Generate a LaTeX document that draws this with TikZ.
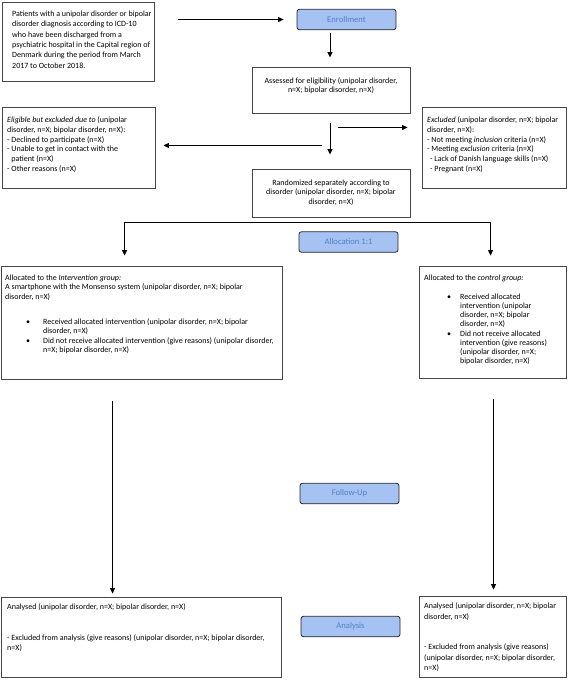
\documentclass[tikz,border=0pt]{standalone}
\usepackage{fontspec}
\setmainfont{Carlito}
\usetikzlibrary{arrows.meta,calc}
\definecolor{phasefill}{RGB}{166,194,243}
\definecolor{phasetext}{RGB}{79,129,199}
\definecolor{boxline}{RGB}{70,70,70}
\tikzset{
  box/.style={draw=boxline,line width=0.9pt,inner sep=0pt,fill=white},
  phase/.style={draw=black!85,line width=0.8pt,rounded corners=2.5pt,fill=phasefill,
    text=phasetext,inner sep=0pt,minimum width=99pt,minimum height=20.5pt,
    font=\fontsize{8.6}{10}\selectfont},
  txt/.style={inner sep=0pt,align=left,anchor=north west,font=\fontsize{8}{9.8}\selectfont},
  ctxt/.style={inner sep=0pt,align=center,anchor=north,font=\fontsize{8}{9.8}\selectfont},
  bul/.style={inner sep=0pt,anchor=center,font=\fontsize{8}{9.8}\selectfont},
  arr/.style={draw=black,line width=0.9pt,-{Triangle[length=5.5pt,width=5pt]}}
}
\begin{document}
\begin{tikzpicture}[x=1pt,y=-1pt]
\useasboundingbox (0,0) rectangle (568,680);
% boxes
\node[box,minimum width=152pt,minimum height=79pt] (b1) at (78,41.5) {};
\node[box,minimum width=158pt,minimum height=46pt] (as) at (331,90) {};
\node[box,minimum width=153pt,minimum height=81pt] (el) at (78.5,147.5) {};
\node[box,minimum width=144pt,minimum height=81pt] (ex) at (494,147.5) {};
\node[box,minimum width=158pt,minimum height=48pt] (rd) at (331,193) {};
\node[box,minimum width=281pt,minimum height=113pt] (iv) at (141.5,322.5) {};
\node[box,minimum width=147pt,minimum height=112pt] (ct) at (492.5,322) {};
\node[box,minimum width=280pt,minimum height=80pt] (la) at (141,637) {};
\node[box,minimum width=147pt,minimum height=81pt] (ra) at (492.5,636.5) {};
% phase labels
\node[phase] (en) at (346.5,19.5) {Enrollment};
\node[phase] (al) at (348.5,242) {Allocation 1:1};
\node[phase] (fu) at (349.5,493.5) {Follow-Up};
\node[phase] (an) at (350.5,626.5) {Analysis};
% texts
\node[txt,font=\fontsize{8}{10.4}\selectfont] (t1) at (12,10.5) {Patients with a unipolar disorder or bipolar\\
disorder diagnosis according to ICD-10\\
who have been discharged from a\\
psychiatric hospital in the Capital region of\\
Denmark during the period from March\\
2017 to October 2018.};
\node[ctxt,font=\fontsize{8}{8.8}\selectfont] (tas) at (331,77.5) {Assessed for eligibility (unipolar disorder,\\ n=X; bipolar disorder, n=X)};
\node[txt] (tel) at (7,116.5) {\textit{Eligible but excluded due to} (unipolar\\
disorder, n=X; bipolar disorder, n=X):\\
- Declined to participate (n=X)\\
- Unable to get in contact with the\\
\phantom{- }patient (n=X)\\
- Other reasons (n=X)};
\node[txt] (tex) at (427,116.5) {\textit{Excluded} (unipolar disorder, n=X; bipolar\\
disorder, n=X):\\
- Not meeting \textit{inclusion} criteria (n=X)\\
- Meeting \textit{exclusion} criteria (n=X)\\
\hspace*{3pt}- Lack of Danish language skills (n=X)\\
\hspace*{3pt}- Pregnant (n=X)};
\node[ctxt,font=\fontsize{8}{9.5}\selectfont] (trd) at (331,179.5) {Randomized separately according to\\
disorder (unipolar disorder, n=X; bipolar\\ disorder, n=X)};
\node[txt,font=\fontsize{8}{9.5}\selectfont] (tiv) at (5,274.5) {Allocated to the \textit{Intervention group:}\\
A smartphone with the Monsenso system (unipolar disorder, n=X; bipolar\\
disorder, n=X)};
\node[bul] (bi1) at (28,322.5) {\textbullet};
\node[txt,font=\fontsize{8}{9.3}\selectfont] (ti1) at (43,318.5) {Received allocated intervention (unipolar disorder, n=X; bipolar\\ disorder, n=X)};
\node[bul] (bi2) at (28,341.5) {\textbullet};
\node[txt,font=\fontsize{8}{9.3}\selectfont] (ti2) at (43,337.5) {Did not receive allocated intervention (give reasons) (unipolar disorder,\\ n=X; bipolar disorder, n=X)};
\node[txt] (tct) at (424,274.5) {Allocated to the \textit{control group:}};
\node[bul] (bc1) at (449,297.5) {\textbullet};
\node[txt,font=\fontsize{8}{9.1}\selectfont] (tc1) at (460,293.5) {Received allocated\\ intervention (unipolar\\ disorder, n=X; bipolar\\ disorder, n=X)};
\node[bul] (bc2) at (449,334.5) {\textbullet};
\node[txt,font=\fontsize{8}{9.1}\selectfont] (tc2) at (460,330.5) {Did not receive allocated\\ intervention (give reasons)\\ (unipolar disorder, n=X;\\ bipolar disorder, n=X)};
\node[txt] (tla1) at (7,603.5) {Analysed (unipolar disorder, n=X; bipolar disorder, n=X)};
\node[txt] (tla2) at (7,634.5) {- Excluded from analysis (give reasons) (unipolar disorder, n=X; bipolar disorder,\\ n=X)};
\node[txt,font=\fontsize{8}{10.5}\selectfont] (tra1) at (424,602.5) {Analysed (unipolar disorder, n=X; bipolar\\ disorder, n=X)};
\node[txt,font=\fontsize{8}{10.5}\selectfont] (tra2) at (424,643.5) {- Excluded from analysis (give reasons)\\ (unipolar disorder, n=X; bipolar disorder,\\ n=X)};
% connectors
\draw[arr] ([xshift=24pt]b1.east |- en.west) -- ([xshift=-13pt]en.west);
\draw[arr] ($(as.north |- en.south)+(-1,3)$) -- ($(as.north)+(-1,-9)$);
\draw[arr] ($(as.south)+(-1,10)$) -- ($(rd.north)+(-1,-14)$);
\draw[arr] ($(as.south)+(7,14)$) -- ($(ex.west |- as.south)+(-14,14)$);
\draw[arr] ($(as.south)+(-9,32)$) -- ($(el.east |- as.south)+(8,32)$);
\coordinate (br) at ($(rd.south)+(0,5)$);
\draw[arr] (br) -| ($(iv.north west)+(124,-10)$);
\draw[arr] (br) -| ($(ct.north west)+(72,-10)$);
\draw[arr] ($(iv.south west)+(112,22)$) -- ($(la.north west)+(112,-3)$);
\draw[arr] ($(ct.south west)+(75,21)$) -- ($(ra.north west)+(75,-6)$);
\end{tikzpicture}
\end{document}
